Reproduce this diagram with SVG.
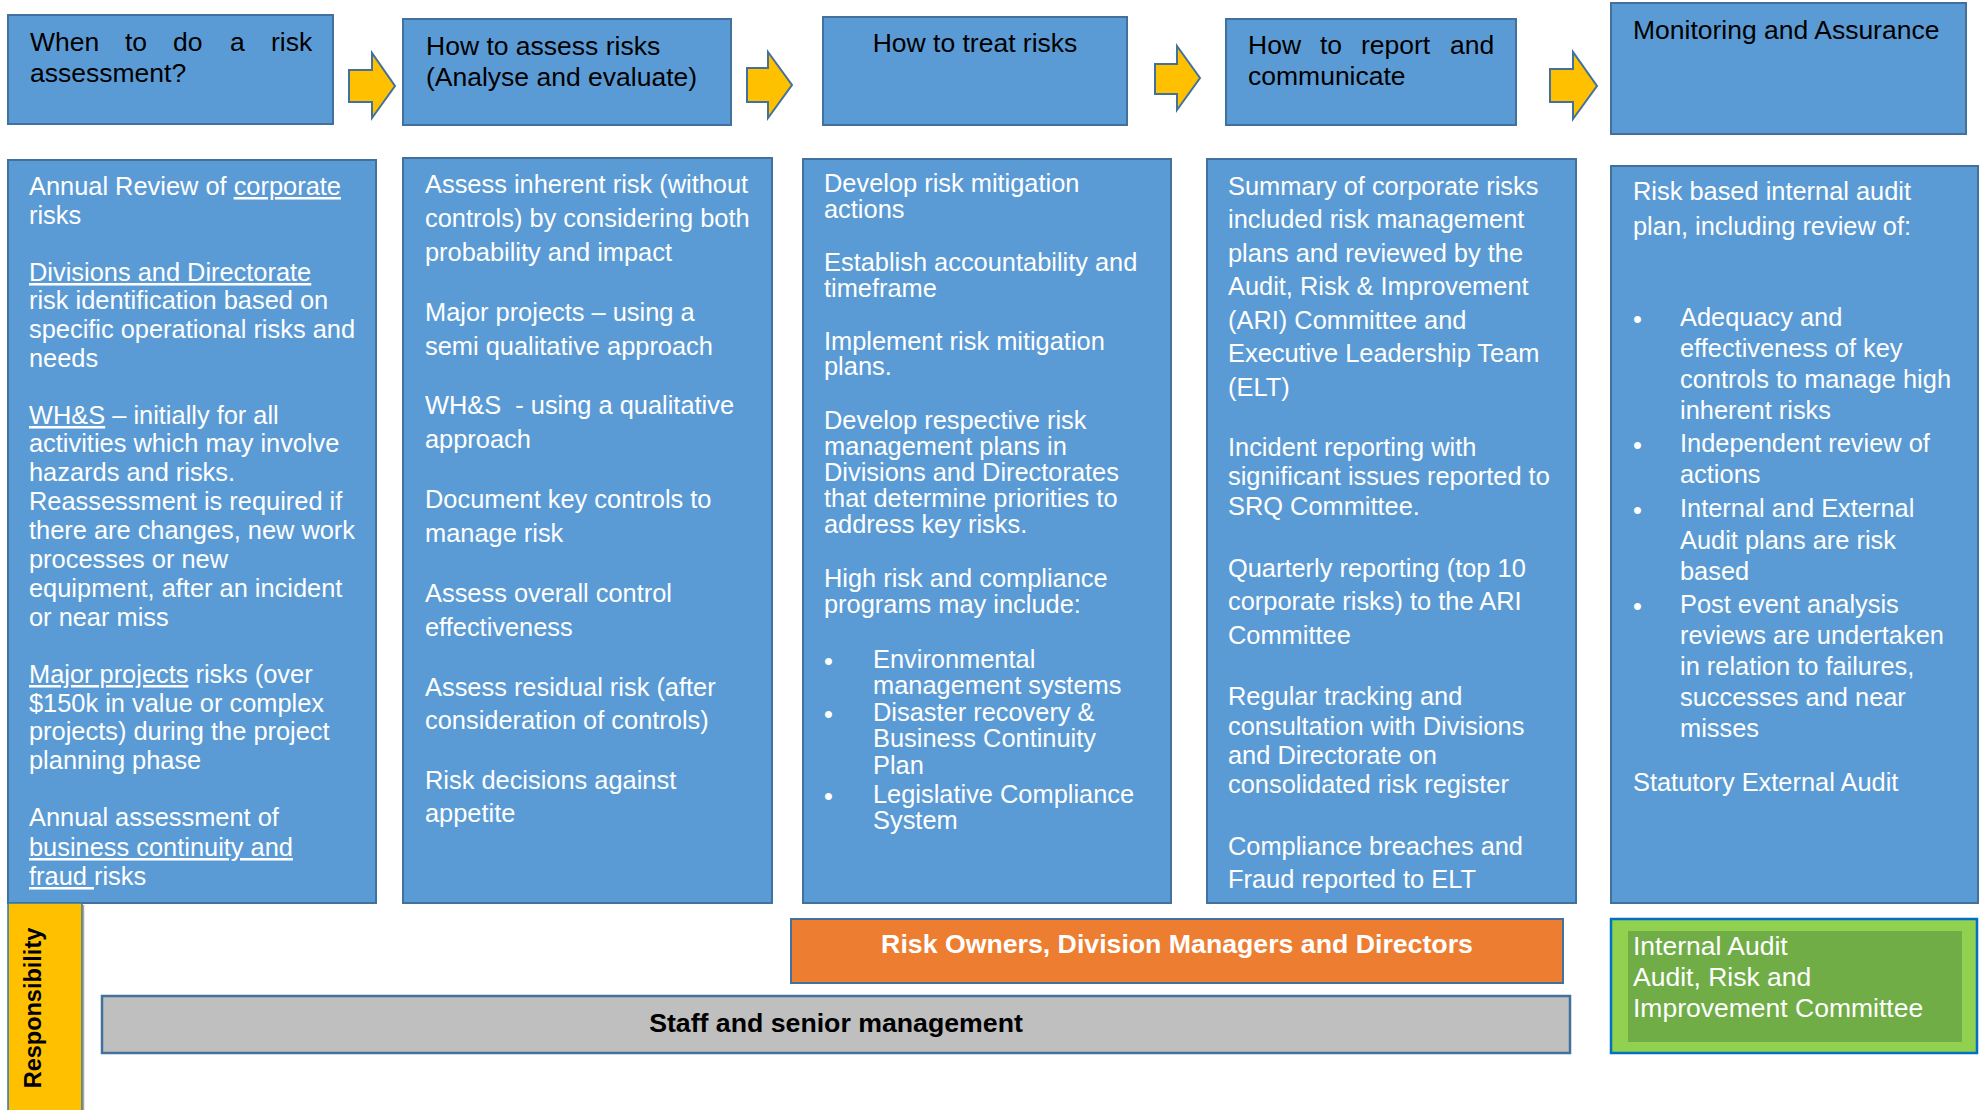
<svg xmlns="http://www.w3.org/2000/svg" width="1979" height="1110" viewBox="0 0 1979 1110">
  <style>
    .box { fill: #5B9BD5; stroke: #41719C; stroke-width: 2; }
    .head { font-family: "Liberation Sans", Arial, sans-serif; font-size: 26.5px; fill: #000; }
    .body { font-family: "Liberation Sans", Arial, sans-serif; font-size: 25.4px; fill: #fff; }
    .u { text-decoration: underline; }
    .arrow { fill: #FFC000; stroke: #41719C; stroke-width: 2; stroke-linejoin: miter; }
    .bold { font-family: "Liberation Sans", Arial, sans-serif; font-weight: bold; }
  </style>

  <!-- Header row -->
  <g id="head-when">
    <rect class="box" x="8" y="15" width="325" height="109"/>
    <text class="head">
      <tspan x="30" y="51">When</tspan><tspan x="125" y="51">to</tspan><tspan x="173" y="51">do</tspan><tspan x="230" y="51">a</tspan><tspan x="271" y="51">risk</tspan>
      <tspan x="30" y="82">assessment?</tspan>
    </text>
  </g>
  <g id="head-assess">
    <rect class="box" x="403" y="19" width="328" height="106"/>
    <text class="head">
      <tspan x="426" y="55">How to assess risks</tspan>
      <tspan x="426" y="86">(Analyse and evaluate)</tspan>
    </text>
  </g>
  <g id="head-treat">
    <rect class="box" x="823" y="17" width="304" height="108"/>
    <text class="head" x="975" y="52" text-anchor="middle">How to treat risks</text>
  </g>
  <g id="head-report">
    <rect class="box" x="1226" y="19" width="290" height="106"/>
    <text class="head">
      <tspan x="1248" y="54">How</tspan><tspan x="1320" y="54">to</tspan><tspan x="1361" y="54">report</tspan><tspan x="1450" y="54">and</tspan>
      <tspan x="1248" y="85">communicate</tspan>
    </text>
  </g>
  <g id="head-monitor">
    <rect class="box" x="1611" y="3" width="355" height="131"/>
    <text class="head" x="1633" y="39">Monitoring and Assurance</text>
  </g>

  <!-- Flow arrows between stages -->
  <g id="connectors">
    <polygon class="arrow" points="349,70 372,70 372,53 395,86 372,118 372,102 349,102"/>
    <polygon class="arrow" points="747,68 768,68 768,52 792,85 768,118 768,102 747,102"/>
    <polygon class="arrow" points="1155,64 1177,64 1177,46 1200,78 1177,110 1177,94 1155,94"/>
    <polygon class="arrow" points="1550,69 1573,69 1573,52 1597,86 1573,119 1573,102 1550,102"/>
  </g>

  <!-- Detail columns -->
  <g id="body-when">
    <rect class="box" x="8" y="160" width="368" height="743"/>
    <text class="body">
      <tspan x="29" y="195">Annual Review of <tspan class="u">corporate</tspan></tspan>
      <tspan x="29" y="224">risks</tspan>
      <tspan x="29" y="281" class="u">Divisions and Directorate</tspan>
      <tspan x="29" y="309">risk identification based on</tspan>
      <tspan x="29" y="338">specific operational risks and</tspan>
      <tspan x="29" y="367">needs</tspan>
      <tspan x="29" y="424"><tspan class="u">WH&amp;S</tspan> – initially for all</tspan>
      <tspan x="29" y="452">activities which may involve</tspan>
      <tspan x="29" y="481">hazards and risks.</tspan>
      <tspan x="29" y="510">Reassessment is required if</tspan>
      <tspan x="29" y="539">there are changes, new work</tspan>
      <tspan x="29" y="568">processes or new</tspan>
      <tspan x="29" y="597">equipment, after an incident</tspan>
      <tspan x="29" y="626">or near miss</tspan>
      <tspan x="29" y="683"><tspan class="u">Major projects</tspan> risks (over</tspan>
      <tspan x="29" y="712">$150k in value or complex</tspan>
      <tspan x="29" y="740">projects) during the project</tspan>
      <tspan x="29" y="769">planning phase</tspan>
      <tspan x="29" y="826">Annual assessment of</tspan>
      <tspan x="29" y="856" class="u">business continuity and</tspan>
      <tspan x="29" y="885"><tspan class="u">fraud </tspan>risks</tspan>
    </text>
  </g>
  <g id="body-assess">
    <rect class="box" x="403" y="158" width="369" height="745"/>
    <text class="body">
      <tspan x="425" y="193">Assess inherent risk (without</tspan>
      <tspan x="425" y="227">controls) by considering both</tspan>
      <tspan x="425" y="261">probability and impact</tspan>
      <tspan x="425" y="321">Major projects – using a</tspan>
      <tspan x="425" y="355">semi qualitative approach</tspan>
      <tspan x="425" y="414">WH&amp;S&#160; - using a qualitative</tspan>
      <tspan x="425" y="448">approach</tspan>
      <tspan x="425" y="508">Document key controls to</tspan>
      <tspan x="425" y="542">manage risk</tspan>
      <tspan x="425" y="602">Assess overall control</tspan>
      <tspan x="425" y="636">effectiveness</tspan>
      <tspan x="425" y="696">Assess residual risk (after</tspan>
      <tspan x="425" y="729">consideration of controls)</tspan>
      <tspan x="425" y="789">Risk decisions against</tspan>
      <tspan x="425" y="822">appetite</tspan>
    </text>
  </g>
  <g id="body-treat">
    <rect class="box" x="803" y="159" width="368" height="744"/>
    <text class="body">
      <tspan x="824" y="192">Develop risk mitigation</tspan>
      <tspan x="824" y="218">actions</tspan>
      <tspan x="824" y="271">Establish accountability and</tspan>
      <tspan x="824" y="297">timeframe</tspan>
      <tspan x="824" y="350">Implement risk mitigation</tspan>
      <tspan x="824" y="375">plans.</tspan>
      <tspan x="824" y="429">Develop respective risk</tspan>
      <tspan x="824" y="455">management plans in</tspan>
      <tspan x="824" y="481">Divisions and Directorates</tspan>
      <tspan x="824" y="507">that determine priorities to</tspan>
      <tspan x="824" y="533">address key risks.</tspan>
      <tspan x="824" y="587">High risk and compliance</tspan>
      <tspan x="824" y="613">programs may include:</tspan>
      <tspan x="824" y="670">•</tspan><tspan x="873" y="668">Environmental</tspan>
      <tspan x="873" y="694">management systems</tspan>
      <tspan x="824" y="723">•</tspan><tspan x="873" y="721">Disaster recovery &amp;</tspan>
      <tspan x="873" y="747">Business Continuity</tspan>
      <tspan x="873" y="774">Plan</tspan>
      <tspan x="824" y="805">•</tspan><tspan x="873" y="803">Legislative Compliance</tspan>
      <tspan x="873" y="829">System</tspan>
    </text>
  </g>
  <g id="body-report">
    <rect class="box" x="1207" y="159" width="369" height="744"/>
    <text class="body">
      <tspan x="1228" y="195">Summary of corporate risks</tspan>
      <tspan x="1228" y="228">included risk management</tspan>
      <tspan x="1228" y="262">plans and reviewed by the</tspan>
      <tspan x="1228" y="295">Audit, Risk &amp; Improvement</tspan>
      <tspan x="1228" y="329">(ARI) Committee and</tspan>
      <tspan x="1228" y="362">Executive Leadership Team</tspan>
      <tspan x="1228" y="396">(ELT)</tspan>
      <tspan x="1228" y="456">Incident reporting with</tspan>
      <tspan x="1228" y="485">significant issues reported to</tspan>
      <tspan x="1228" y="515">SRQ Committee.</tspan>
      <tspan x="1228" y="577">Quarterly reporting (top 10</tspan>
      <tspan x="1228" y="610">corporate risks) to the ARI</tspan>
      <tspan x="1228" y="644">Committee</tspan>
      <tspan x="1228" y="705">Regular tracking and</tspan>
      <tspan x="1228" y="735">consultation with Divisions</tspan>
      <tspan x="1228" y="764">and Directorate on</tspan>
      <tspan x="1228" y="793">consolidated risk register</tspan>
      <tspan x="1228" y="855">Compliance breaches and</tspan>
      <tspan x="1228" y="888">Fraud reported to ELT</tspan>
    </text>
  </g>
  <g id="body-monitor">
    <rect class="box" x="1611" y="166" width="367" height="737"/>
    <text class="body">
      <tspan x="1633" y="200">Risk based internal audit</tspan>
      <tspan x="1633" y="235">plan, including review of:</tspan>
      <tspan x="1633" y="328">•</tspan><tspan x="1680" y="326">Adequacy and</tspan>
      <tspan x="1680" y="357">effectiveness of key</tspan>
      <tspan x="1680" y="388">controls to manage high</tspan>
      <tspan x="1680" y="419">inherent risks</tspan>
      <tspan x="1633" y="454">•</tspan><tspan x="1680" y="452">Independent review of</tspan>
      <tspan x="1680" y="483">actions</tspan>
      <tspan x="1633" y="519">•</tspan><tspan x="1680" y="517">Internal and External</tspan>
      <tspan x="1680" y="549">Audit plans are risk</tspan>
      <tspan x="1680" y="580">based</tspan>
      <tspan x="1633" y="615">•</tspan><tspan x="1680" y="613">Post event analysis</tspan>
      <tspan x="1680" y="644">reviews are undertaken</tspan>
      <tspan x="1680" y="675">in relation to failures,</tspan>
      <tspan x="1680" y="706">successes and near</tspan>
      <tspan x="1680" y="737">misses</tspan>
      <tspan x="1633" y="791">Statutory External Audit</tspan>
    </text>
  </g>

  <!-- Responsibility bands -->
  <g id="responsibility">
    <line x1="83.5" y1="905" x2="83.5" y2="1110" stroke="#B8A574" stroke-width="1.5"/>
    <rect x="8" y="903" width="74" height="212" fill="#FFC000" stroke="#2E75B6" stroke-width="1.5"/>
    <text class="bold" font-size="23.5" fill="#000" text-anchor="middle" transform="translate(41,1008) rotate(-90)">Responsibility</text>
  </g>
  <g id="risk-owners">
    <rect x="791" y="919" width="772" height="64" fill="#ED7D31" stroke="#41719C" stroke-width="2"/>
    <text class="bold" font-size="26.7" fill="#fff" x="1177" y="953" text-anchor="middle">Risk Owners, Division Managers and Directors</text>
  </g>
  <g id="staff">
    <rect x="102" y="996" width="1468" height="57" fill="#BFBFBF" stroke="#41719C" stroke-width="2.5"/>
    <text class="bold" font-size="26.7" fill="#000" x="836" y="1032" text-anchor="middle">Staff and senior management</text>
  </g>
  <g id="internal-audit">
    <rect x="1611" y="919" width="366" height="134" fill="#92D050" stroke="#0070C0" stroke-width="2.5"/>
    <rect x="1628" y="931" width="334" height="111" fill="#70AD47"/>
    <text class="head" style="fill:#fff">
      <tspan x="1633" y="955">Internal Audit</tspan>
      <tspan x="1633" y="986">Audit, Risk and</tspan>
      <tspan x="1633" y="1017">Improvement Committee</tspan>
    </text>
  </g>
</svg>
